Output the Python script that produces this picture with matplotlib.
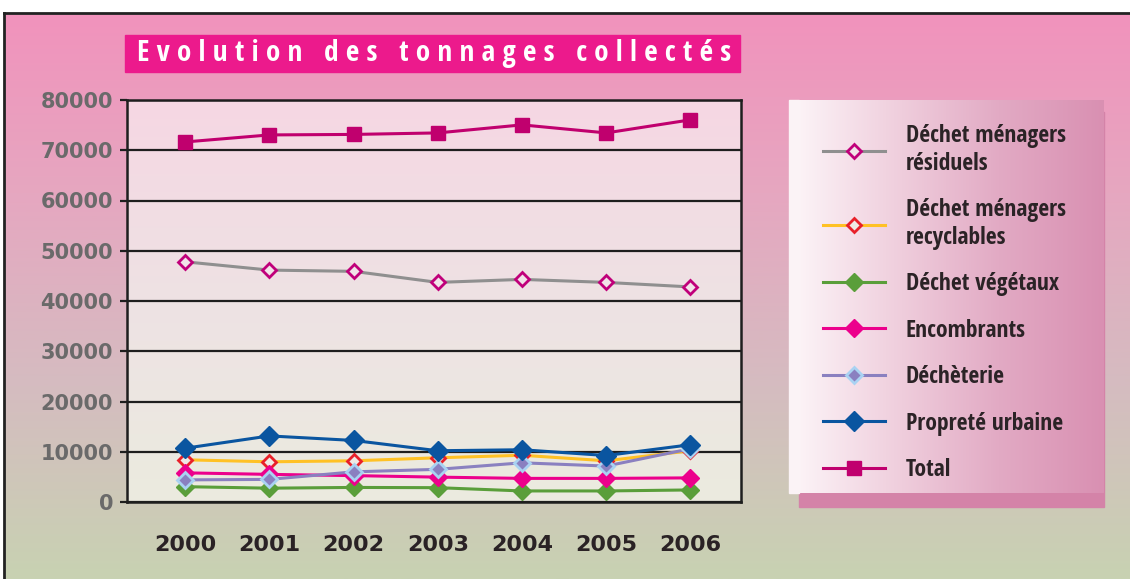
import numpy as np
import matplotlib
matplotlib.use("Agg")
import matplotlib.pyplot as plt
from matplotlib.colors import LinearSegmentedColormap
from matplotlib.patches import Rectangle

years = [2000, 2001, 2002, 2003, 2004, 2005, 2006]
residuels = [47800, 46150, 45900, 43700, 44300, 43700, 42800]
recyclables = [8400, 8000, 8200, 8800, 9300, 8200, 10200]
vegetaux = [3050, 2750, 2900, 2850, 2200, 2200, 2400]
encombrants = [5800, 5500, 5250, 4950, 4700, 4700, 4800]
decheterie = [4400, 4500, 6000, 6500, 7800, 7150, 10600]
proprete = [10700, 13150, 12250, 10200, 10400, 9250, 11400]
total = [71650, 73050, 73150, 73450, 75050, 73450, 76050]
yticks = [0, 10000, 20000, 30000, 40000, 50000, 60000, 70000, 80000]

title = "Evolution des tonnages collectés"
cond = ["Open Sans Condensed", "DejaVu Sans"]

W, H = 1130, 579
fig = plt.figure(figsize=(W / 100, H / 100), dpi=100)

def fx(px):
    return px / W

def fy(py):
    return 1 - py / H

# page background gradient
bg = fig.add_axes([0, 0, 1, 1], zorder=-10)
cm_bg = LinearSegmentedColormap.from_list("bg", ["#f291bc", "#e6a7c0", "#d5bcc0", "#c8d2b2"])
bg.imshow(np.linspace(0, 1, 256).reshape(-1, 1), cmap=cm_bg, aspect="auto", extent=[0, 1, 0, 1], zorder=0)
bg.add_patch(Rectangle((0, fy(13)), 1, 1, color="white"))
bg.add_patch(Rectangle((0, 0), fx(4), 1, color="white"))
bg.plot([fx(4), 1], [fy(13), fy(13)], color="#222222", lw=2)
bg.plot([fx(4), fx(4)], [0, fy(13)], color="#222222", lw=2)
bg.set_xlim(0, 1)
bg.set_ylim(0, 1)
bg.axis("off")

# title box
bg.add_patch(Rectangle((fx(125), fy(72)), fx(740) - fx(125), fy(35) - fy(72), color="#ec1a8c"))
spaced = "   ".join(" ".join(w) for w in title.split())
fig.text(fx(434), fy(53), spaced, color="white", fontsize=21, fontweight="bold",
         family=cond, ha="center", va="center")

# plot area
rect = [fx(127), fy(502), fx(741) - fx(127), fy(100) - fy(502)]
pbg = fig.add_axes(rect, zorder=-5)
cm_p = LinearSegmentedColormap.from_list("p", ["#f6d7e3", "#eee2e4", "#ebebdf"])
pbg.imshow(np.linspace(0, 1, 256).reshape(-1, 1), cmap=cm_p, aspect="auto", extent=[0, 1, 0, 1])
pbg.axis("off")

# legend panel (shadow + gradient front)
lp = fig.add_axes([0, 0, 1, 1], zorder=-4)
lp.add_patch(Rectangle((fx(799), fy(507)), fx(1104) - fx(799), fy(112) - fy(507), color="#d483a8", zorder=0))
cm_l = LinearSegmentedColormap.from_list("l", ["#fdf6f9", "#f0d0de", "#e2aac4", "#d990b2"])
lp.imshow(np.linspace(0, 1, 256).reshape(1, -1), cmap=cm_l, aspect="auto",
          extent=[fx(789), fx(1104), fy(493), fy(100)], zorder=1)
lp.add_patch(Rectangle((fx(789), fy(493)), fx(799) - fx(789), fy(100) - fy(493), color="#fbf3f6", zorder=2))
lp.set_xlim(0, 1)
lp.set_ylim(0, 1)
lp.axis("off")

ax = fig.add_axes(rect)
ax.patch.set_alpha(0)
lw = 2.2
ax.plot(years, residuels, color="#8f8f8f", lw=lw, marker="D", ms=7, mfc="#f1e3e8",
        mec="#c0007a", mew=2, label="Déchet ménagers\nrésiduels")
ax.plot(years, recyclables, color="#ffc125", lw=lw, marker="D", ms=7, mfc="#efe9e4",
        mec="#e8202a", mew=2, label="Déchet ménagers\nrecyclables")
ax.plot(years, vegetaux, color="#5a9e3a", lw=lw, marker="D", ms=9,
        label="Déchet végétaux")
ax.plot(years, encombrants, color="#ec008c", lw=lw, marker="D", ms=9,
        label="Encombrants")
ax.plot(years, decheterie, color="#8a80c0", lw=lw, marker="D", ms=8, mfc="#8a80c0",
        mec="#a9d2f2", mew=2, label="Déchèterie")
ax.plot(years, proprete, color="#0a55a0", lw=lw, marker="D", ms=10,
        label="Propreté urbaine")
ax.plot(years, total, color="#c0006e", lw=lw, marker="s", ms=10,
        label="Total")

ax.set_xlim(1999.31, 2006.6)
ax.set_ylim(0, 80000)
ax.set_yticks(yticks)
ax.set_yticklabels([str(v) for v in yticks])
ax.set_xticks(years)
ax.set_xticklabels([str(y) for y in years])
ax.grid(axis="y", color="#1e1e1e", lw=1.6)
ax.set_axisbelow(True)
for s in ax.spines.values():
    s.set_color("#1e1e1e")
    s.set_linewidth(1.8)
ax.tick_params(axis="y", direction="out", length=5, width=1.6, color="#1e1e1e", pad=5,
               labelsize=15, labelcolor="#6a6a6a")
ax.tick_params(axis="x", length=0, pad=24, labelsize=16, labelcolor="#2a2225")
for t in ax.get_yticklabels() + ax.get_xticklabels():
    t.set_fontweight("bold")

leg = ax.legend(loc="upper left", bbox_to_anchor=(fx(802), fy(103)), bbox_transform=fig.transFigure,
                frameon=False, numpoints=1, handlelength=2.6, handletextpad=0.9,
                labelspacing=0.95, prop={"family": cond, "weight": "bold", "size": 17})
for t in leg.get_texts():
    t.set_color("#2b2326")
    t.set_linespacing(1.2)

fig.savefig("out.png", dpi=100)
